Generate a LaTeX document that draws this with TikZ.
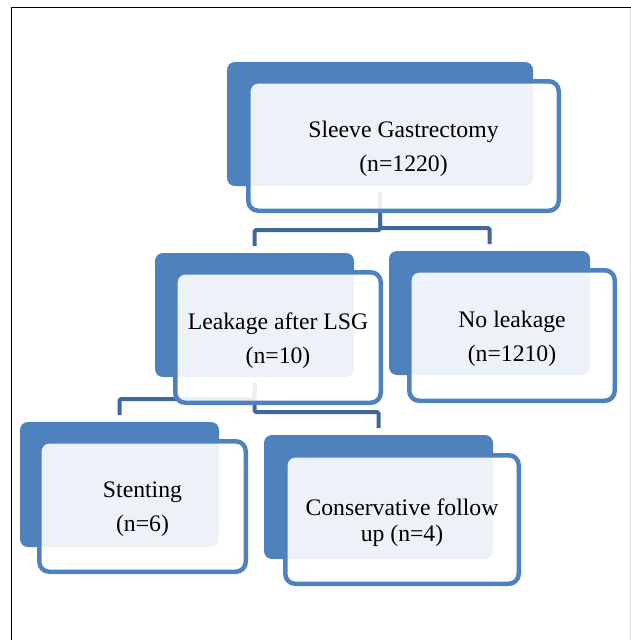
\documentclass[tikz,border=0pt]{standalone}
\usepackage{fontspec}
\setmainfont{Liberation Serif}
\definecolor{accent}{RGB}{79,129,189}
\definecolor{connc}{RGB}{64,104,153}
\tikzset{
  darkbox/.style={rectangle, rounded corners=8pt, fill=accent, draw=none, inner sep=0pt, outer sep=0pt},
  frontbox/.style={rectangle, rounded corners=10pt, draw=accent, line width=4.5pt, fill=white, fill opacity=0.9, inner sep=0pt, outer sep=0pt},
  label/.style={align=center, inner sep=0pt, font=\fontsize{23.7}{34}\selectfont},
  conn/.style={draw=connc, line width=4pt, rounded corners=1.5pt}
}
\begin{document}
\begin{tikzpicture}[x=1pt,y=1pt]
\useasboundingbox (0,0) rectangle (631,-640);
% frame
\draw[line width=1.5pt] (11.5,-640) -- (11.5,-7.5) -- (631,-7.5);
\draw[black!15, line width=1pt] (630,-7.5) -- (630,-640);

% dark back boxes (coordinates for connectors)
\node[darkbox, minimum width=306pt, minimum height=124pt] (topB) at (380,-124) {};
\node[darkbox, minimum width=199pt, minimum height=124pt] (leakB) at (254.5,-315) {};
\node[darkbox, minimum width=201pt, minimum height=124pt] (noB) at (489.5,-313) {};
\node[darkbox, minimum width=199pt, minimum height=125pt] (stentB) at (119.5,-484.5) {};
\node[darkbox, minimum width=229pt, minimum height=124pt] (consB) at (378.5,-497) {};

% connectors (under front boxes)
\draw[conn] ([yshift=-6pt]topB.south) |- ([yshift=23pt]leakB.north) -- ([yshift=7pt]leakB.north);
\draw[conn] ([yshift=-6pt]topB.south) |- ([yshift=23pt]noB.north) -- ([yshift=7pt]noB.north);
\draw[conn] ([yshift=-6pt]leakB.south) |- ([yshift=23pt]stentB.north) -- ([yshift=7pt]stentB.north);
\draw[conn] ([yshift=-6pt]leakB.south) |- ([yshift=23pt]consB.north) -- ([yshift=7pt]consB.north);

% front boxes
\node[frontbox, minimum width=310.5pt, minimum height=129.5pt] (topF) at (403.5,-146) {};
\node[frontbox, minimum width=205.5pt, minimum height=130.5pt] (leakF) at (278,-337.5) {};
\node[frontbox, minimum width=205.5pt, minimum height=130.5pt] (noF) at (512,-335.5) {};
\node[frontbox, minimum width=206.5pt, minimum height=130.5pt] (stentF) at (142.5,-506.5) {};
\node[frontbox, minimum width=233.5pt, minimum height=128.5pt] (consF) at (402,-519.5) {};

% texts
\node[label] (topT) at ([yshift=-3pt]topF.center) {Sleeve Gastrectomy\\(n=1220)};
\node[label] (leakT) at ([yshift=-3pt]leakF.center) {Leakage after LSG\\(n=10)};
\node[label] (noT) at ([yshift=-3pt]noF.center) {No leakage\\(n=1210)};
\node[label] (stentT) at ([yshift=-3pt]stentF.center) {Stenting\\(n=6)};
\node[label, font=\fontsize{23.7}{26}\selectfont] (consT) at ([yshift=-3pt]consF.center) {Conservative follow\\up (n=4)};
\end{tikzpicture}
\end{document}
